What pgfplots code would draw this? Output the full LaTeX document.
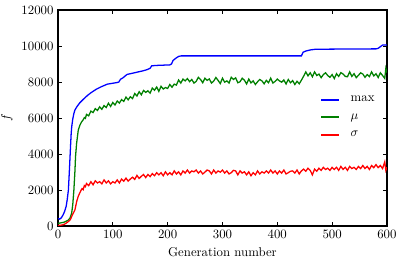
\documentclass[border=0pt]{standalone}
\usepackage{pgfplots}
\pgfplotsset{compat=1.18}
\definecolor{mplblue}{rgb}{0,0,1}
\definecolor{mplgreen}{rgb}{0,0.5,0}
\definecolor{mplred}{rgb}{1,0,0}
\begin{document}
\begin{tikzpicture}
\begin{axis}[
  name=ax,
  scale only axis,
  width=257pt, height=168.75pt,
  xmin=0, xmax=600, ymin=0, ymax=12000,
  xtick={0,100,200,300,400,500,600},
  ytick={0,2000,4000,6000,8000,10000,12000},
  scaled ticks=false,
  /pgf/number format/1000 sep={},
  tick align=inside,
  major tick length=3pt,
  minor tick num=0,
  axis line style={line width=0.9pt},
  every tick/.style={black, line width=0.6pt},
  xlabel={Generation number},
  ylabel={$f$},
  legend style={draw=none, fill=none, at={(rel axis cs:0.785,0.627)}, anchor=north west,
    row sep=3.9pt, column sep=6pt, font=\normalsize},
  legend cell align=left,
  legend image code/.code={\draw[line width=1.5pt] (0cm,0cm) -- (0.5cm,0cm);},
]
\coordinate (bl) at (rel axis cs:0,0);
\coordinate (tr) at (rel axis cs:1,1);
\addplot[mplblue, line width=1pt] table {
0 420
3 380
6 450
9 600
12 800
15 1100
17 1500
19 2000
20 2600
21 3200
22 3850
23 4500
24 5100
25 5500
27 5950
29 6250
31 6450
35 6650
40 6850
45 7000
50 7150
55 7280
60 7400
70 7600
80 7750
90 7880
100 7930
108 7970
111 8000
114 8150
118 8220
122 8320
126 8420
135 8480
145 8550
155 8620
162 8680
168 8760
171 8900
180 8920
204 8950
207 9000
210 9200
215 9320
220 9420
225 9450
444 9450
447 9650
452 9720
460 9780
470 9820
580 9840
584 9870
588 9960
592 10050
600 10050
};
\addlegendentry{max}
\addplot[mplgreen, line width=1pt] table {
0 150
3 160
6 180
10 200
14 250
17 300
19 330
22 450
25 720
27 1200
29 2000
31 3100
32 3850
34 4600
37 5330
40 5600
43 5780
46 5900
48 6020
50 5980
52 6200
56 6120
60 6380
64 6300
68 6520
72 6420
76 6620
80 6480
84 6690
88 6580
92 6820
96 6640
100 6860
104 6720
108 6940
112 6830
116 7020
120 6920
124 7160
128 7010
132 7180
136 7080
140 7360
144 7220
148 7460
152 7290
156 7530
160 7420
164 7510
168 7380
172 7660
176 7540
180 7720
184 7480
188 7760
192 7610
196 7690
200 7640
204 7860
208 7710
212 7880
216 7830
220 8110
224 7940
228 8160
232 8060
236 8190
240 8020
244 8140
248 7940
252 8030
256 8260
260 8140
264 7960
268 8210
272 8090
276 8170
280 7940
284 8050
288 8250
292 8090
296 7910
300 8210
304 7990
308 8060
312 7940
316 8260
320 8140
324 8230
328 7960
332 8010
336 8210
340 8100
344 7890
348 8160
352 7950
356 8060
360 7860
364 8010
368 8140
372 8060
376 7900
380 8090
384 7960
388 8210
392 7940
396 8030
400 8160
404 8060
408 7990
412 8110
416 7890
420 8140
424 7960
428 8080
432 7860
436 8040
440 7900
444 8100
448 8320
452 8560
456 8340
460 8510
464 8290
468 8560
472 8360
476 8440
480 8240
484 8410
488 8510
492 8360
496 8260
500 8410
504 8190
508 8460
512 8310
516 8520
520 8440
524 8310
528 8290
532 8560
536 8310
540 8460
544 8240
548 8370
552 8510
556 8440
560 8260
564 8410
568 8300
572 8560
576 8340
580 8460
584 8250
588 8510
592 8360
596 8200
598 8760
600 8520
};
\addlegendentry{$\mu$}
\addplot[mplred, line width=1pt] table {
0 30
4 40
8 60
12 100
16 180
19 250
22 330
24 450
26 600
28 720
31 900
34 1350
37 1650
40 1850
42 1980
44 2080
46 2020
48 2240
50 2180
52 2360
56 2240
60 2460
64 2290
68 2510
72 2390
76 2460
80 2340
84 2560
88 2390
92 2510
96 2340
100 2460
104 2390
108 2560
112 2390
116 2610
120 2490
124 2660
128 2490
132 2610
136 2710
140 2590
144 2810
148 2640
152 2760
156 2860
160 2690
164 2860
168 2740
172 2910
176 2790
180 2960
184 2840
188 2960
192 2790
196 3010
200 2840
204 2960
208 2840
212 3060
216 2890
220 3010
224 2840
228 3060
232 2940
236 3110
240 2940
244 3060
248 3010
252 3110
256 2940
260 3060
264 2890
268 2990
272 3110
276 3060
280 2890
284 3110
288 2940
292 3060
296 2990
300 3110
304 2940
308 3060
312 2890
316 2960
320 3090
324 3060
328 2840
332 3060
336 2940
340 3010
344 2840
348 3010
352 2790
356 2960
360 2840
364 3060
368 2890
372 3010
376 2940
380 3060
384 2940
388 3110
392 2940
396 3060
400 2890
404 3060
408 2940
412 3110
416 2890
420 2960
424 3040
428 3060
432 2940
436 3110
440 2890
444 3060
448 3160
452 3040
456 3210
460 3090
464 2840
468 3160
472 3040
476 3210
480 3090
484 3260
488 3140
492 3210
496 3090
500 3260
504 3140
508 3260
512 3090
516 3310
520 3140
524 3260
528 3090
532 3310
536 3190
540 3260
544 3140
548 3310
552 3190
556 3360
560 3190
564 3310
568 3140
572 3360
576 3240
580 3410
584 3240
588 3360
592 3190
596 3560
598 3090
600 3260
};
\addlegendentry{$\sigma$}
\end{axis}
\pgfresetboundingbox
\path ([shift={(-45.3pt,-26.6pt)}]bl) rectangle ([shift={(10.2pt,7.8pt)}]tr);
\end{tikzpicture}
\end{document}
